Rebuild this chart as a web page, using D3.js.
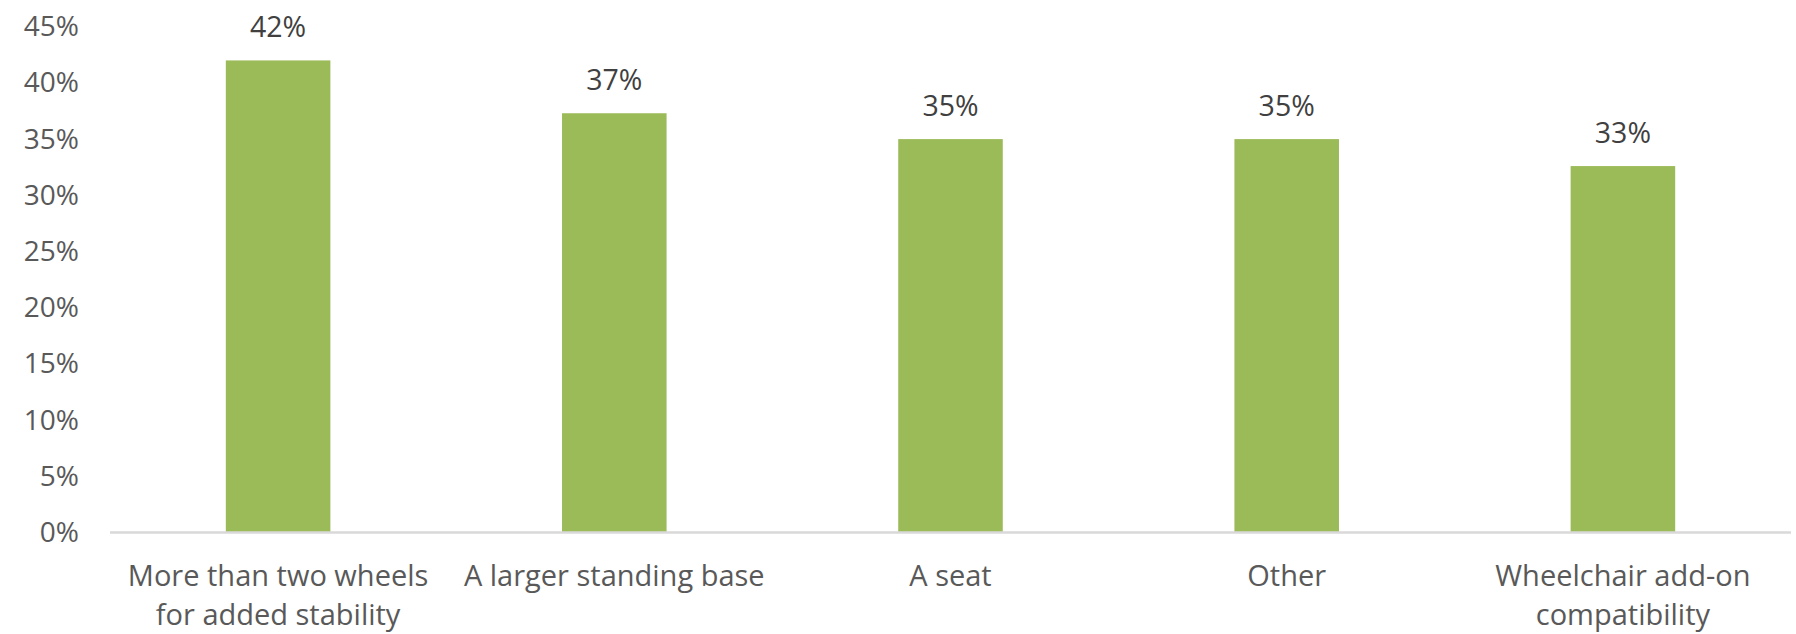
<!DOCTYPE html>
<html>
<head>
<meta charset="utf-8">
<script src="https://cdn.jsdelivr.net/npm/d3@7"></script>
<style>
  body { margin: 0; background: #fff; }
  svg text { font-family: "Open Sans", sans-serif; }
  .tick text { fill: #595959; font-size: 28px; }
  .label { fill: #404040; font-size: 28.5px; }
  .cat { fill: #595959; font-size: 29px; }
</style>
</head>
<body>
<svg></svg>
<script>
const width = 1796;
const height = 634;

// data
const categories = ["More than two wheels for added stability", "A larger standing base", "A seat", "Other", "Wheelchair add-on compatibility"];
const values = [42, 37.3, 35, 35, 32.6];
const yTicks = [0, 5, 10, 15, 20, 25, 30, 35, 40, 45];

const margin = {top: 26.7, right: 5, bottom: 101.5, left: 110};

var svg = d3.select("svg")
  .attr("width", width)
  .attr("height", height);

var xScale = d3.scaleBand()
  .domain(categories)
  .range([margin.left, width - margin.right])
  .paddingInner(0.689)
  .paddingOuter(0.3445);

var yScale = d3.scaleLinear()
  .domain([0, 45])
  .range([height - margin.bottom, margin.top]);

// y axis labels only
var yAxis = d3.axisLeft(yScale)
  .tickValues(yTicks)
  .tickFormat(d => d + "%")
  .tickSize(0)
  .tickPadding(31);

svg.append("g")
  .attr("transform", `translate(${margin.left},0)`)
  .call(yAxis)
  .call(g => g.attr("font-family", null).attr("font-size", null))
  .call(g => g.select(".domain").remove());

// bars
svg.selectAll("rect.bar")
  .data(values)
  .enter()
  .append("rect")
  .attr("class", "bar")
  .attr("x", (d, i) => xScale(categories[i]))
  .attr("y", d => yScale(d))
  .attr("width", xScale.bandwidth())
  .attr("height", d => yScale(0) - yScale(d))
  .attr("fill", "#9BBB59");

// baseline
svg.append("line")
  .attr("x1", margin.left)
  .attr("x2", width - margin.right)
  .attr("y1", yScale(0))
  .attr("y2", yScale(0))
  .attr("stroke", "#D9D9D9")
  .attr("stroke-width", 2.5);

// value labels
svg.selectAll("text.label")
  .data(values)
  .enter()
  .append("text")
  .attr("class", "label")
  .attr("x", (d, i) => xScale(categories[i]) + xScale.bandwidth() / 2)
  .attr("y", d => yScale(d) - 23)
  .attr("text-anchor", "middle")
  .text(d => Math.round(d) + "%");

// category labels, wrapped to fit
function wrap(text, maxW) {
  text.each(function(d) {
    var t = d3.select(this);
    var words = d.split(" ");
    var lines = [];
    var line = [];
    var tmp = t.append("tspan");
    words.forEach(w => {
      line.push(w);
      tmp.text(line.join(" "));
      if (tmp.node().getComputedTextLength() > maxW && line.length > 1) {
        line.pop();
        lines.push(line.join(" "));
        line = [w];
      }
    });
    lines.push(line.join(" "));
    tmp.remove();
    var x = t.attr("x");
    lines.forEach((l, i) => {
      t.append("tspan")
        .attr("x", x)
        .attr("dy", i == 0 ? 0 : 39)
        .text(l);
    });
  });
}

svg.selectAll("text.cat")
  .data(categories)
  .enter()
  .append("text")
  .attr("class", "cat")
  .attr("x", d => xScale(d) + xScale.bandwidth() / 2)
  .attr("y", 586)
  .attr("text-anchor", "middle")
  .call(wrap, 330);
</script>
</body>
</html>
